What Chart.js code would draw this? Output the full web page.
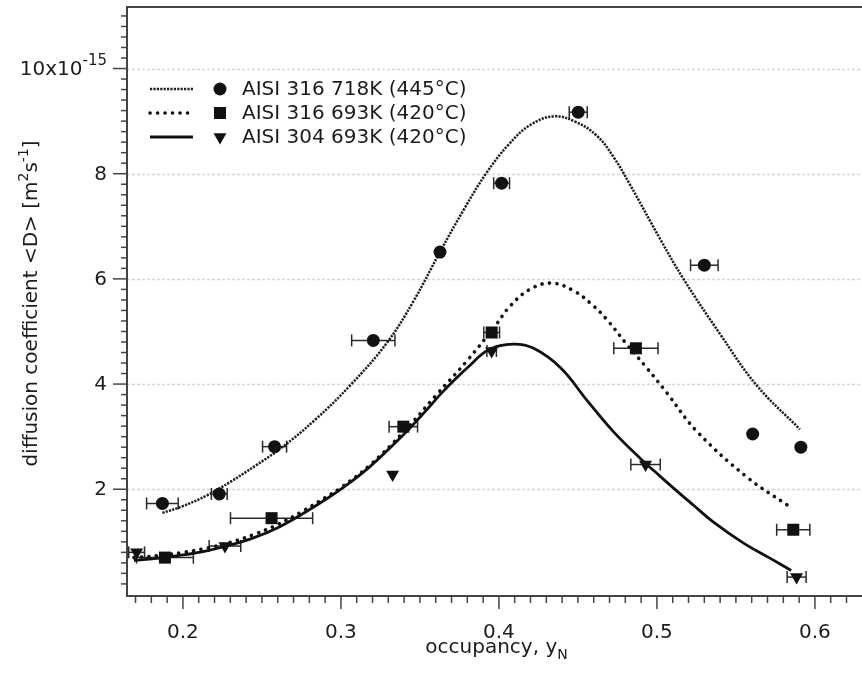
<!DOCTYPE html>
<html lang="en">
<head>
<meta charset="UTF-8">
<title>Diffusion coefficient vs nitrogen occupancy</title>
<script src="https://cdn.jsdelivr.net/npm/chart.js@4"></script>
<style>
  html, body { margin: 0; padding: 0; background: #fff; }
  #wrap { width: 862px; height: 674px; position: relative; }
</style>
</head>
<body>
<div id="wrap"><canvas id="diffChart"></canvas></div>
<script>
// measured points: occupancy y_N, <D> in units of 1e-15 m^2/s, half width of x error bar
const hot316X    = [0.187, 0.223, 0.258, 0.3205, 0.3627, 0.4017, 0.4502, 0.530, 0.5606, 0.5911];
const hot316Y    = [1.73, 1.91, 2.81, 4.83, 6.51, 7.82, 9.17, 6.26, 3.05, 2.80];
const hot316Err  = [0.010, 0.005, 0.0076, 0.0137, 0, 0.005, 0.0057, 0.0087, 0, 0];

const cool316X   = [0.1886, 0.2561, 0.3395, 0.3954, 0.4867, 0.5863];
const cool316Y   = [0.70, 1.45, 3.19, 4.98, 4.68, 1.23];
const cool316Err = [0.018, 0.026, 0.009, 0.005, 0.014, 0.0105];

const cool304X   = [0.1707, 0.2266, 0.3327, 0.3954, 0.4928, 0.5884];
const cool304Y   = [0.80, 0.92, 2.28, 4.63, 2.47, 0.33];
const cool304Err = [0.005, 0.010, 0, 0.003, 0.0093, 0.006];

// fitted curves
const fitHot316X  = [0.187, 0.200, 0.215, 0.230, 0.246, 0.262, 0.284, 0.306, 0.329, 0.346, 0.363, 0.378,
                     0.392, 0.406, 0.420, 0.435, 0.449, 0.462, 0.4725, 0.483, 0.502, 0.517, 0.540, 0.563, 0.5905];
const fitHot316Y  = [1.55, 1.68, 1.88, 2.14, 2.45, 2.78, 3.33, 3.98, 4.78, 5.58, 6.53, 7.33,
                     8.01, 8.55, 8.93, 9.09, 8.98, 8.72, 8.32, 7.79, 6.76, 5.99, 4.95, 3.98, 3.14];

const fitCool316X = [0.169, 0.185, 0.200, 0.215, 0.230, 0.245, 0.260, 0.275, 0.290, 0.300, 0.318, 0.340,
                     0.360, 0.380, 0.3975, 0.407, 0.4196, 0.4333, 0.447, 0.4586, 0.4682, 0.4808, 0.4935,
                     0.5061, 0.525, 0.557, 0.583];
const fitCool316Y = [0.70, 0.74, 0.80, 0.88, 0.99, 1.14, 1.33, 1.57, 1.84, 2.03, 2.45, 3.10,
                     3.78, 4.45, 5.10, 5.48, 5.80, 5.92, 5.78, 5.52, 5.23, 4.76, 4.31,
                     3.84, 3.11, 2.23, 1.69];

const fitCool304X = [0.169, 0.185, 0.200, 0.215, 0.230, 0.245, 0.260, 0.275, 0.290, 0.300, 0.318, 0.340,
                     0.354, 0.365, 0.380, 0.394, 0.409, 0.422, 0.439, 0.456, 0.472, 0.489, 0.5019,
                     0.5125, 0.523, 0.5356, 0.5546, 0.5715, 0.585];
const fitCool304Y = [0.65, 0.69, 0.75, 0.83, 0.94, 1.08, 1.27, 1.52, 1.80, 2.00, 2.42, 3.05,
                     3.50, 3.87, 4.31, 4.66, 4.76, 4.68, 4.31, 3.68, 3.11, 2.60, 2.25,
                     1.97, 1.70, 1.38, 0.98, 0.69, 0.455];

const seriesLabels = ['AISI 316 718K (445°C)', 'AISI 316 693K (420°C)', 'AISI 304 693K (420°C)'];

const xTicks = [0.2, 0.3, 0.4, 0.5, 0.6];
const xTickLabels = ['0.2', '0.3', '0.4', '0.5', '0.6'];
const yTicks = [2, 4, 6, 8, 10];
const yTickLabels = ['2', '4', '6', '8', '10x10'];
const yTopExponent = '-15';

const FONT = '"DejaVu Sans", sans-serif';
const INK = '#1c1c1c';
const AXIS = '#444';
const MARK = '#111';

const pts = (xs, ys) => xs.map((x, i) => ({ x: x, y: ys[i] }));

// line styles shared by curves and legend samples
const lineStyles = [
  { color: '#1e1e1e', width: 2.5, dash: [2.2, 1.2], cap: 'butt' },
  { color: MARK, width: 3.6, dash: [0.1, 7.4], cap: 'round' },
  { color: MARK, width: 2.8, dash: [], cap: 'butt' }
];
const markerStyles = [
  { pointStyle: 'circle', radius: 6.5, rotation: 0 },
  { pointStyle: 'rect', radius: 8.5, rotation: 0 },
  { pointStyle: 'triangle', radius: 7.5, rotation: 180 }
];
const errSets = [
  [hot316X, hot316Y, hot316Err],
  [cool316X, cool316Y, cool316Err],
  [cool304X, cool304Y, cool304Err]
];

function fitDataset(xs, ys, st) {
  return {
    type: 'scatter', data: pts(xs, ys), showLine: true,
    borderColor: st.color, borderWidth: st.width, borderDash: st.dash, borderCapStyle: st.cap,
    borderJoinStyle: 'round', pointRadius: 0, pointHoverRadius: 0, tension: 0.4, order: 2
  };
}
function markDataset(xs, ys, m) {
  return {
    type: 'scatter', data: pts(xs, ys),
    pointStyle: m.pointStyle, pointRadius: m.radius, pointRotation: m.rotation,
    backgroundColor: MARK, borderColor: MARK, borderWidth: 0, order: 1
  };
}

// text with super/subscript pieces: [text, size, dy]
function richText(ctx, parts, x, y, align) {
  let w = 0;
  parts.forEach(p => { ctx.font = p[1] + 'px ' + FONT; w += ctx.measureText(p[0]).width; });
  let cx = align === 'right' ? x - w : align === 'center' ? x - w / 2 : x;
  ctx.textAlign = 'left';
  parts.forEach(p => {
    ctx.font = p[1] + 'px ' + FONT;
    ctx.fillText(p[0], cx, y + (p[2] || 0));
    cx += ctx.measureText(p[0]).width;
  });
}

function seg(ctx, x1, y1, x2, y2) {
  ctx.beginPath(); ctx.moveTo(x1, y1); ctx.lineTo(x2, y2); ctx.stroke();
}

const frame = {
  id: 'frame',
  beforeDatasetsDraw(chart) {
    const ctx = chart.ctx, a = chart.chartArea, xs = chart.scales.x, ys = chart.scales.y;
    ctx.save();
    // horizontal grid at major ticks
    ctx.strokeStyle = '#d6d6d6'; ctx.lineWidth = 1.3; ctx.setLineDash([3, 2]);
    yTicks.forEach(v => { const py = Math.round(ys.getPixelForValue(v)) + 0.5; seg(ctx, a.left, py, a.right, py); });
    ctx.setLineDash([]);
    // horizontal error bars with caps
    ctx.strokeStyle = '#2a2a2a'; ctx.lineWidth = 1.5;
    errSets.forEach(s => {
      s[0].forEach((x, i) => {
        const e = s[2][i];
        if (!e) return;
        const py = ys.getPixelForValue(s[1][i]);
        const l = xs.getPixelForValue(x - e), r = xs.getPixelForValue(x + e);
        seg(ctx, l, py, r, py);
        seg(ctx, l, py - 6, l, py + 6);
        seg(ctx, r, py - 6, r, py + 6);
      });
    });
    ctx.restore();
  },
  afterDraw(chart) {
    const ctx = chart.ctx, a = chart.chartArea, xs = chart.scales.x, ys = chart.scales.y;
    ctx.save();
    ctx.strokeStyle = AXIS; ctx.lineWidth = 2;
    seg(ctx, a.left, a.top, a.right, a.top);
    seg(ctx, a.left, a.top - 1, a.left, a.bottom + 1);
    seg(ctx, a.left - 1, a.bottom, a.right, a.bottom);
    // tick marks, outside the frame
    ctx.lineWidth = 1.5;
    for (let i = 17; i <= 62; i++) {
      const px = xs.getPixelForValue(i / 100);
      seg(ctx, px, a.bottom, px, a.bottom + (i % 10 === 0 ? 13 : 7));
    }
    for (let i = 1; i <= 55; i++) {
      const py = ys.getPixelForValue(i * 0.2);
      seg(ctx, a.left, py, a.left - (i % 10 === 0 ? 14 : 6), py);
    }
    // tick labels
    ctx.fillStyle = INK;
    ctx.textBaseline = 'alphabetic';
    xTicks.forEach((v, i) => richText(ctx, [[xTickLabels[i], 20, 0]], xs.getPixelForValue(v), a.bottom + 42, 'center'));
    ctx.textBaseline = 'middle';
    yTicks.forEach((v, i) => {
      const py = ys.getPixelForValue(v) + 1;
      const parts = [[yTickLabels[i], 20, 0]];
      if (i === yTicks.length - 1) parts.push([yTopExponent, 15, -8]);
      richText(ctx, parts, a.left - 20, py, 'right');
    });
    // axis titles
    ctx.textBaseline = 'alphabetic';
    richText(ctx, [['occupancy, y', 20, 0], ['N', 14, 6]], (a.left + a.right) / 2 + 2, a.bottom + 57, 'center');
    ctx.save();
    ctx.translate(32, (a.top + a.bottom) / 2 + 2);
    ctx.rotate(-Math.PI / 2);
    ctx.textBaseline = 'middle';
    richText(ctx, [['diffusion coefficient <D> [m', 20, 0], ['2', 14, -8], ['s', 20, 0], ['-1', 14, -8], [']', 20, 0]], 0, 0, 'center');
    ctx.restore();
    // legend
    seriesLabels.forEach((label, i) => {
      const y = 89 + i * 24, st = lineStyles[i], m = markerStyles[i];
      ctx.strokeStyle = st.color; ctx.lineWidth = st.width; ctx.lineCap = st.cap; ctx.setLineDash(st.dash);
      seg(ctx, 150, y, 193, y);
      ctx.setLineDash([]); ctx.lineCap = 'butt';
      ctx.fillStyle = MARK;
      Chart.helpers.drawPoint(ctx, { pointStyle: m.pointStyle, radius: m.radius, rotation: m.rotation, borderWidth: 0 }, 220, y);
      ctx.fillStyle = INK; ctx.textBaseline = 'middle';
      richText(ctx, [[label, 20, 0]], 242, y + 1, 'left');
    });
    ctx.restore();
  }
};

new Chart(document.getElementById('diffChart'), {
  type: 'scatter',
  data: {
    datasets: [
      fitDataset(fitHot316X, fitHot316Y, lineStyles[0]),
      fitDataset(fitCool316X, fitCool316Y, lineStyles[1]),
      fitDataset(fitCool304X, fitCool304Y, lineStyles[2]),
      markDataset(hot316X, hot316Y, markerStyles[0]),
      markDataset(cool316X, cool316Y, markerStyles[1]),
      markDataset(cool304X, cool304Y, markerStyles[2])
    ]
  },
  options: {
    responsive: true,
    maintainAspectRatio: false,
    animation: false,
    layout: { autoPadding: false, padding: { top: 7, right: 0, left: 0, bottom: 0 } },
    plugins: { legend: { display: false }, tooltip: { enabled: false } },
    scales: {
      x: {
        type: 'linear', min: 0.1646, max: 0.6298,
        grid: { display: false }, border: { display: false }, ticks: { display: false },
        afterFit: s => { s.height = 78; }
      },
      y: {
        type: 'linear', min: -0.03, max: 11.17,
        grid: { display: false }, border: { display: false }, ticks: { display: false },
        afterFit: s => { s.width = 127; }
      }
    }
  },
  plugins: [frame]
});
</script>
</body>
</html>
